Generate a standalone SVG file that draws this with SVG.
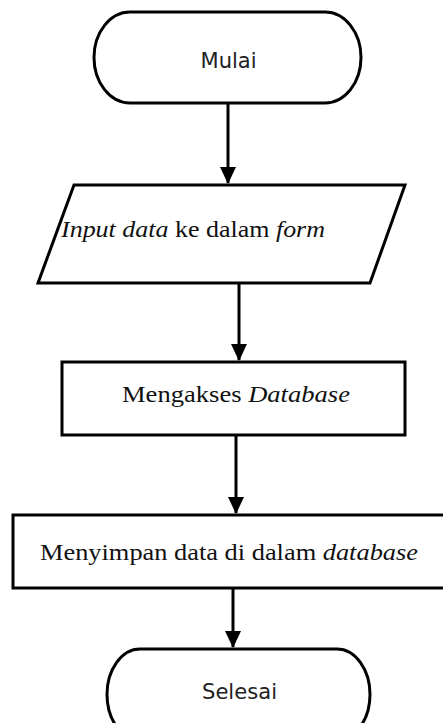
<svg xmlns="http://www.w3.org/2000/svg" width="443" height="723" viewBox="0 0 443 723">
<defs>
<style>
.shape{fill:#fff;stroke:#000;stroke-width:3}
.sans{font-family:Tahoma,"DejaVu Sans","Liberation Sans",sans-serif;font-size:21px;fill:#222}
.serif{font-family:"Liberation Serif","Times New Roman",serif;font-size:24px;fill:#111}
.it{font-style:italic}
.conn{stroke:#000;stroke-width:3;fill:none}
</style>
<marker id="ah" markerUnits="userSpaceOnUse" markerWidth="18" markerHeight="20" refX="16" refY="9" orient="auto" viewBox="0 0 18 18">
<path d="M0,1 L17,9 L0,17 Z" fill="#000"/>
</marker>
</defs>
<rect width="443" height="723" fill="#fff"/>
<g id="connectors">
<line class="conn" x1="228" y1="103" x2="228" y2="183" marker-end="url(#ah)"/>
<line class="conn" x1="239" y1="283" x2="239" y2="360" marker-end="url(#ah)"/>
<line class="conn" x1="236" y1="435" x2="236" y2="513" marker-end="url(#ah)"/>
<line class="conn" x1="233" y1="588" x2="233" y2="647" marker-end="url(#ah)"/>
</g>
<g id="mulai">
<path class="shape" d="M130,12 H325 A36,45.5 0 0 1 325,103 H130 A36,45.5 0 0 1 130,12 Z"/>
<text class="sans" x="228.5" y="68" text-anchor="middle" textLength="56" lengthAdjust="spacingAndGlyphs">Mulai</text>
</g>
<g id="input">
<polygon class="shape" points="74,185 405,185 370,283 38,283"/>
<text class="serif" x="61" y="237" textLength="264" lengthAdjust="spacingAndGlyphs"><tspan class="it">Input data</tspan> ke dalam <tspan class="it">form</tspan></text>
</g>
<g id="akses">
<rect class="shape" x="62" y="362" width="343" height="73"/>
<text class="serif" x="122" y="402" textLength="228" lengthAdjust="spacingAndGlyphs">Mengakses <tspan class="it">Database</tspan></text>
</g>
<g id="simpan">
<rect class="shape" x="13" y="515" width="440" height="73"/>
<text class="serif" x="40" y="560" textLength="378" lengthAdjust="spacingAndGlyphs">Menyimpan data di dalam <tspan class="it">database</tspan></text>
</g>
<g id="selesai">
<path class="shape" d="M140,649 H337 A33,45.5 0 0 1 337,740 H140 A33,45.5 0 0 1 140,649 Z"/>
<text class="sans" x="239.5" y="699" text-anchor="middle" textLength="75" lengthAdjust="spacingAndGlyphs">Selesai</text>
</g>
</svg>
